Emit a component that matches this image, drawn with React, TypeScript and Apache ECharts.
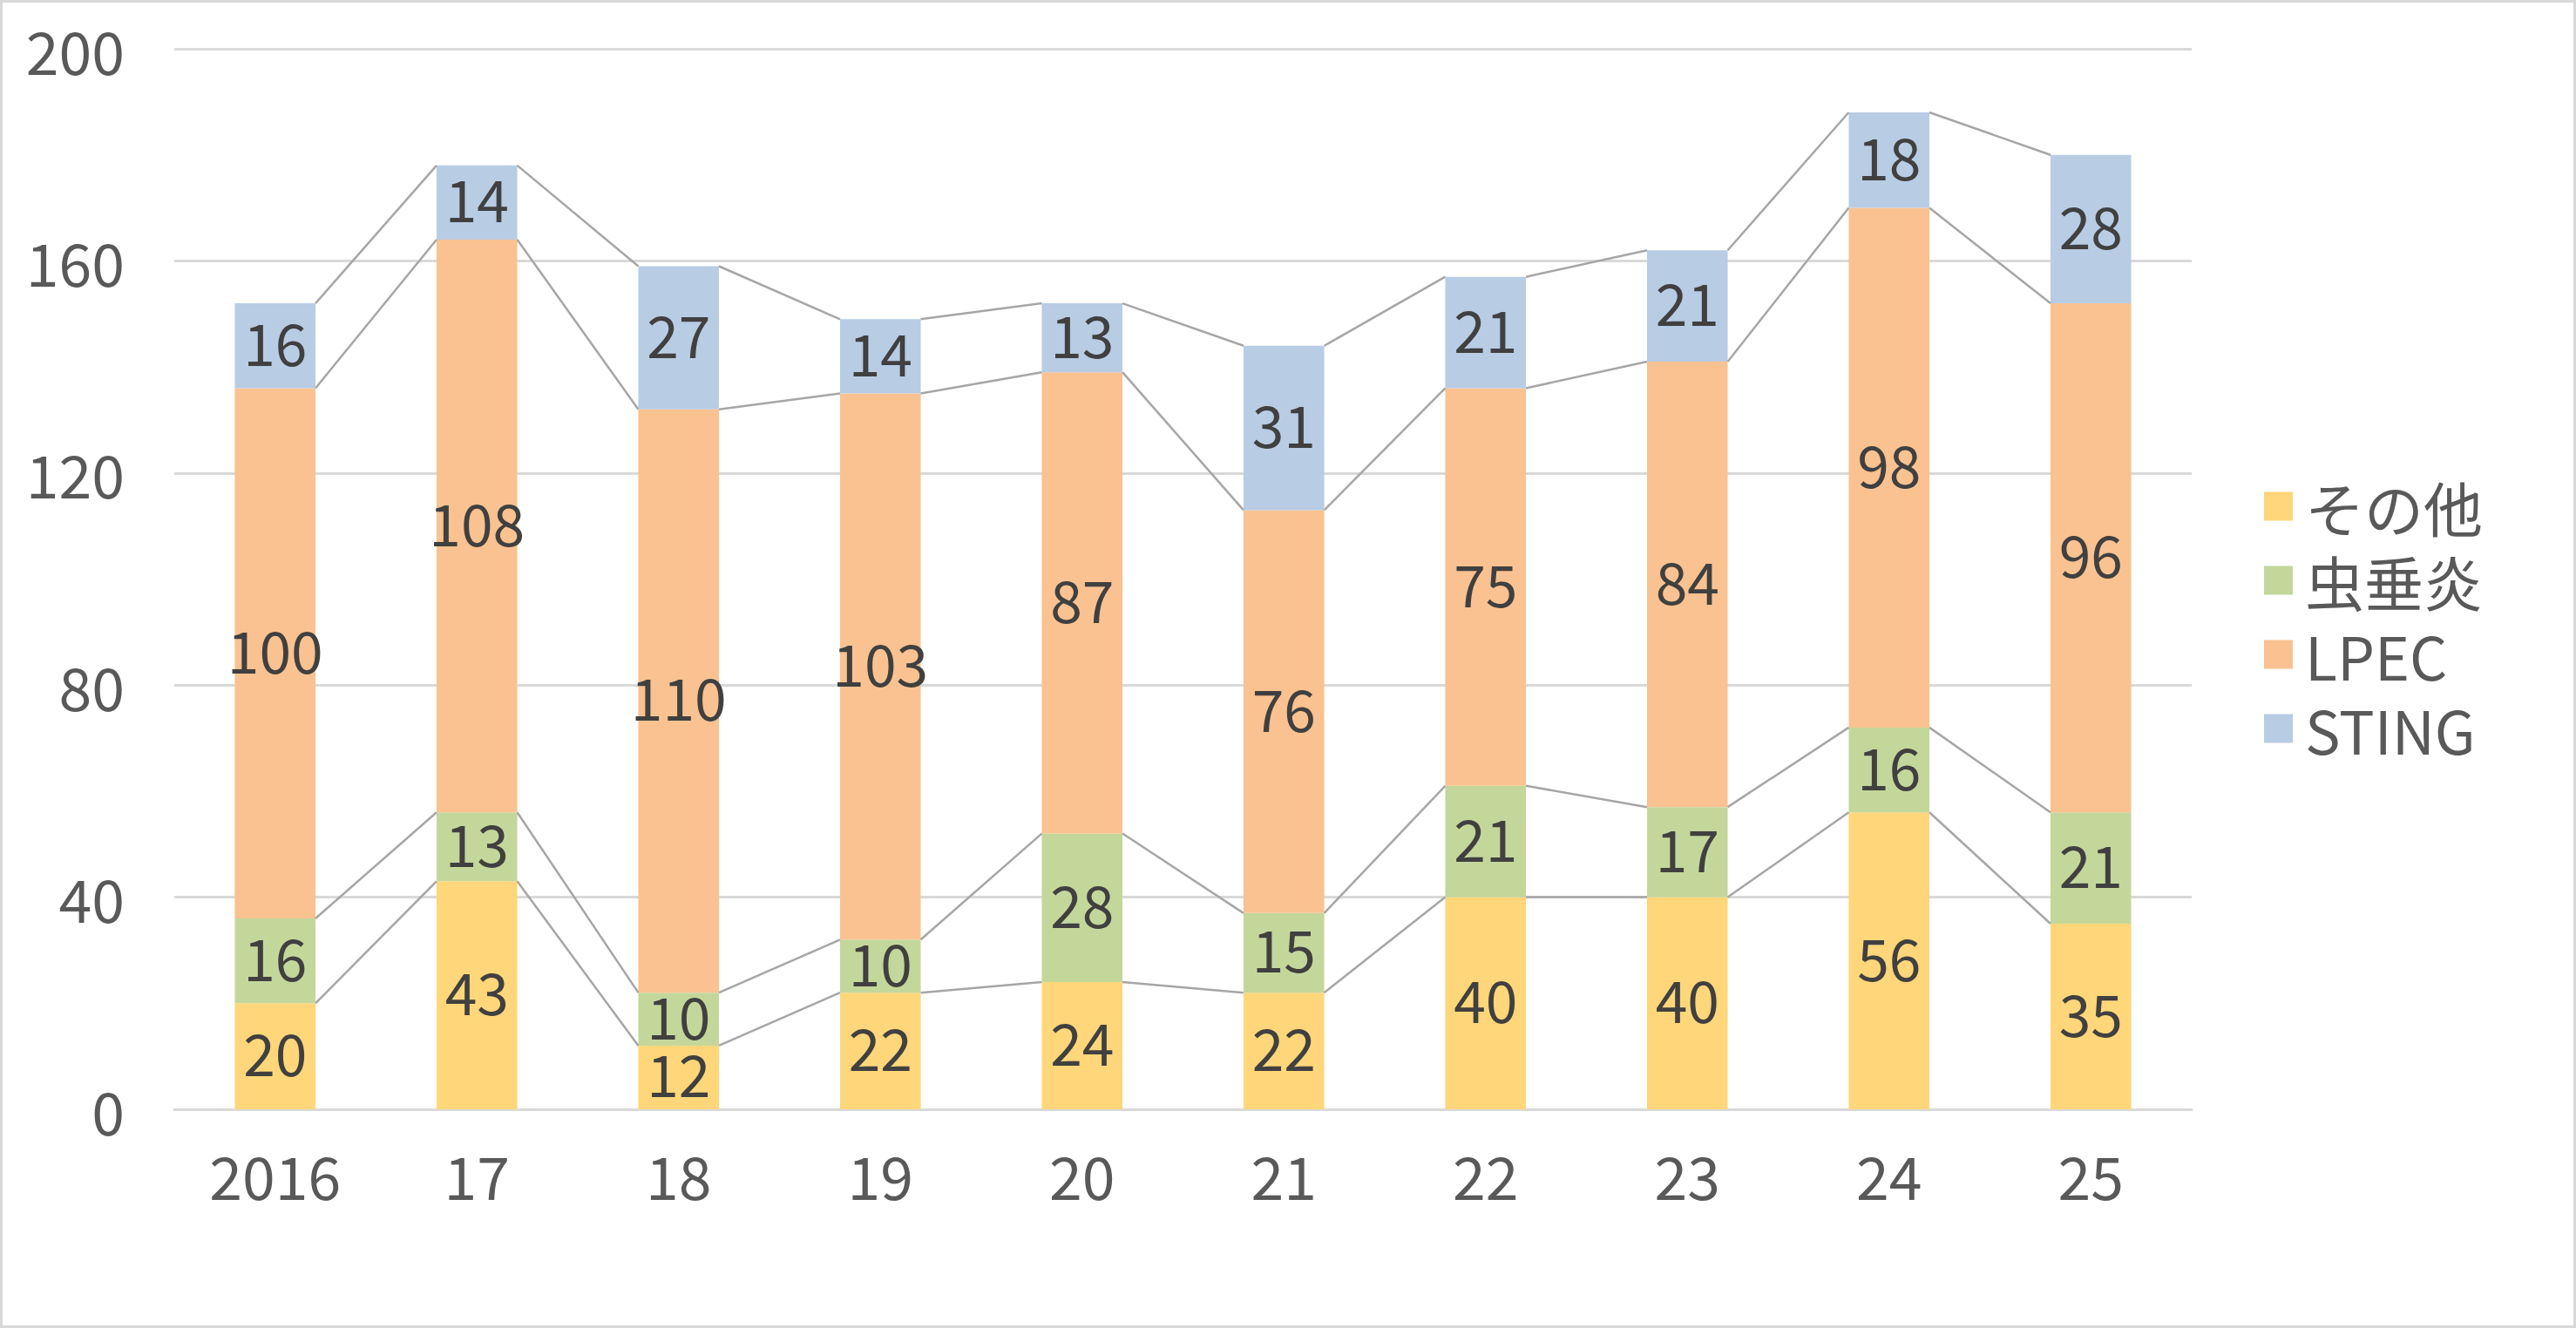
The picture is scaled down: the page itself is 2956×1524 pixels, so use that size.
import React, { useEffect, useRef } from "react";
import * as echarts from "echarts";

const categories = ["2016", "17", "18", "19", "20", "21", "22", "23", "24", "25"];
const seriesNames = ["その他", "虫垂炎", "LPEC", "STING"];
const sonota = [20, 43, 12, 22, 24, 22, 40, 40, 56, 35];
const chusuien = [16, 13, 10, 10, 28, 15, 21, 17, 16, 21];
const lpec = [100, 108, 110, 103, 87, 76, 75, 84, 98, 96];
const sting = [16, 14, 27, 14, 13, 31, 21, 21, 18, 28];
const colors = ["#FFD679", "#C4D79B", "#F9C290", "#B8CCE4"];
const yTicks = [0, 40, 80, 120, 160, 200];

const FONT = "'Noto Sans CJK JP', sans-serif";
const FS = 68;
const BAR_FRACTION = 0.4;

export default function App() {
  const ref = useRef<HTMLDivElement>(null);

  useEffect(() => {
    if (!ref.current) return;
    const chart = echarts.init(ref.current, undefined, { renderer: "svg" });
    const values = [sonota, chusuien, lpec, sting];

    // cumulative tops per series
    const cum: number[][] = [];
    values.forEach((arr, k) => {
      cum.push(arr.map((v, i) => v + (k > 0 ? cum[k - 1][i] : 0)));
    });
    const lineData: number[][] = [];
    cum.forEach((row) => {
      for (let i = 0; i < row.length - 1; i++) {
        lineData.push([i, row[i], row[i + 1]]);
      }
    });

    const barSeries = values.map((arr, k) => ({
      name: seriesNames[k],
      type: "bar",
      stack: "total",
      barWidth: `${BAR_FRACTION * 100}%`,
      data: arr,
      itemStyle: { color: colors[k] },
      label: {
        show: true,
        position: "inside",
        color: "#404040",
        fontSize: 66,
        lineHeight: 54,
        offset: [0, -6],
        fontFamily: FONT,
      },
      z: 2,
    }));

    chart.setOption({
      animation: false,
      backgroundColor: "#FFFFFF",
      graphic: [
        {
          type: "rect",
          shape: { x: 1.5, y: 1.5, width: 2953, height: 1521 },
          style: { fill: "none", stroke: "#D9D9D9", lineWidth: 3 },
          silent: true,
        },
      ],
      grid: { left: 200, right: 441, top: 56, bottom: 251, containLabel: false },
      legend: {
        orient: "vertical",
        left: 2593,
        top: 541,
        itemWidth: 33,
        itemHeight: 33,
        itemGap: 15,
        icon: "rect",
        selectedMode: false,
        data: seriesNames,
        textStyle: {
          fontSize: FS,
          lineHeight: 60,
          color: "#595959",
          fontFamily: FONT,
          padding: [0, 0, 10, 9],
        },
      },
      xAxis: {
        type: "category",
        data: categories,
        axisLine: { show: true, lineStyle: { color: "#D9D9D9", width: 3 } },
        axisTick: { show: false },
        axisLabel: { color: "#595959", fontSize: FS, fontFamily: FONT, margin: 40 },
      },
      yAxis: {
        type: "value",
        min: yTicks[0],
        max: yTicks[yTicks.length - 1],
        interval: yTicks[1] - yTicks[0],
        axisLine: { show: false },
        axisTick: { show: false },
        splitLine: { lineStyle: { color: "#D9D9D9", width: 3 } },
        axisLabel: {
          color: "#595959",
          fontSize: FS,
          fontFamily: FONT,
          margin: 57,
          lineHeight: 60,
          padding: [0, 0, 14, 0],
        },
      },
      series: [
        ...barSeries,
        {
          type: "custom",
          name: "seriesLines",
          data: lineData,
          encode: { x: 0, y: [1, 2] },
          z: 3,
          silent: true,
          renderItem: (params: any, api: any) => {
            const i = api.value(0);
            const a = api.value(1);
            const b = api.value(2);
            const p1 = api.coord([i, a]);
            const p2 = api.coord([i + 1, b]);
            const half = (api.size([1, 0])[0] * BAR_FRACTION) / 2;
            return {
              type: "line",
              shape: { x1: p1[0] + half, y1: p1[1], x2: p2[0] - half, y2: p2[1] },
              style: { stroke: "#A6A6A6", lineWidth: 2.5 },
            };
          },
        },
      ],
    });

    return () => chart.dispose();
  }, []);

  return (
    <div
      ref={ref}
      style={{ position: "absolute", left: 0, top: 0, width: 2956, height: 1524 }}
    />
  );
}
